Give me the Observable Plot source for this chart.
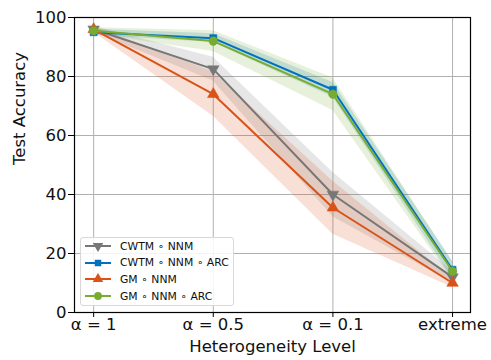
<!DOCTYPE html>
<html><head><meta charset="utf-8">
<script src="https://cdn.jsdelivr.net/npm/d3@7"></script>
<script src="https://cdn.jsdelivr.net/npm/@observablehq/plot@0.6"></script>
<style>
body{margin:0;background:#fff;font-family:"DejaVu Sans",sans-serif}
#wrap{position:relative;width:491px;height:360px}
#legend{position:absolute;left:80px;top:237px;width:154px;height:69px;box-sizing:border-box;border:1px solid #d8d8d8;border-radius:3px;background:rgba(255,255,255,0.85);padding:0px 3px;font-size:10.8px;color:#111}
#legend .row{display:flex;align-items:center;height:16.6px}
#legend svg{margin-right:8px}
</style>
</head><body><div id="wrap"></div>
<script>
const levels = ["α = 1", "α = 0.5", "α = 0.1", "extreme"];
const names = ["CWTM ∘ NNM", "CWTM ∘ NNM ∘ ARC", "GM ∘ NNM", "GM ∘ NNM ∘ ARC"];
const colors = ["#777777", "#0072BD", "#D95319", "#77AC30"];
const symbols = ["triangle", "square", "triangle", "circle"];
const rotations = [180, 0, 0, 0];
const cwtmNnm = [96, 82.5, 40, 12];
const cwtmNnmArc = [95, 93, 75.5, 14.5];
const gmNnm = [96, 74, 35.5, 10];
const gmNnmArc = [95.5, 92, 74, 14];
const cwtmNnmSpread = [1, 4, 7.5, 2];
const cwtmNnmArcSpread = [1, 1.5, 2.5, 3];
const gmNnmSpread = [1, 7.5, 9, 1.5];
const gmNnmArcSpread = [1, 3.5, 5.5, 3];

const values = [cwtmNnm, cwtmNnmArc, gmNnm, gmNnmArc];
const spreads = [cwtmNnmSpread, cwtmNnmArcSpread, gmNnmSpread, gmNnmArcSpread];
const rows = [];
names.forEach((n, s) => values[s].forEach((v, i) => rows.push({s, name: n, i, v, lo: v - spreads[s][i], hi: v + spreads[s][i]})));

const marks = [
  Plot.gridX([0,1,2,3], {stroke: "#b0b0b0", strokeOpacity: 1, strokeWidth: 1}),
  Plot.gridY([0,20,40,60,80,100], {stroke: "#b0b0b0", strokeOpacity: 1, strokeWidth: 1}),
];
names.forEach((n, s) => {
  const d = rows.filter(r => r.s === s);
  marks.push(Plot.areaY(d, {x: "i", y1: "lo", y2: "hi", fill: colors[s], fillOpacity: 0.18}));
});
names.forEach((n, s) => {
  const d = rows.filter(r => r.s === s);
  marks.push(Plot.line(d, {x: "i", y: "v", stroke: colors[s], strokeWidth: 2}));
  marks.push(Plot.dot(d, {x: "i", y: "v", fill: colors[s], stroke: colors[s], strokeWidth: 0.5, symbol: symbols[s], rotate: rotations[s], r: symbols[s] === "square" ? 4 : 4.3}));
});
marks.push(
  Plot.frame({stroke: "black", strokeWidth: 1.2}),
  Plot.axisX([0,1,2,3], {tickFormat: i => levels[i], tickSize: 5, tickPadding: 1, fontSize: 16.5, label: null, stroke: "black"}),
  Plot.axisY([0,20,40,60,80,100], {tickSize: 6, tickPadding: 2, fontSize: 16.5, label: null, stroke: "black"}),
  Plot.text(["Heterogeneity Level"], {frameAnchor: "bottom", lineAnchor: "middle", dy: 34, fontSize: 16.5, fill: "#111"}),
  Plot.text(["Test Accuracy"], {frameAnchor: "left", lineAnchor: "middle", rotate: -90, dx: -55, fontSize: 16.5, fill: "#111"})
);

const chart = Plot.plot({
  width: 491, height: 360,
  marginLeft: 74, marginRight: 21, marginTop: 17, marginBottom: 48,
  style: {fontFamily: "DejaVu Sans, sans-serif", fontSize: "16px", color: "#111", background: "white"},
  x: {type: "linear", domain: [-0.16, 3.15]},
  y: {domain: [0, 100]},
  marks
});
const wrap = document.getElementById("wrap");
wrap.appendChild(chart);

const legend = d3.select(wrap).append("div").attr("id", "legend");
names.forEach((n, s) => {
  const row = legend.append("div").attr("class", "row");
  const svg = row.append("svg").attr("width", 28).attr("height", 12);
  svg.append("line").attr("x1", 1).attr("x2", 27).attr("y1", 6).attr("y2", 6).attr("stroke", colors[s]).attr("stroke-width", 2);
  const symMap = {triangle: d3.symbolTriangle, square: d3.symbolSquare, circle: d3.symbolCircle};
  svg.append("path").attr("d", d3.symbol(symMap[symbols[s]], s === 1 ? 42 : 48)())
    .attr("transform", `translate(14,6) rotate(${rotations[s]})`).attr("fill", colors[s]);
  row.append("span").text(n);
});
</script>
</body></html>
